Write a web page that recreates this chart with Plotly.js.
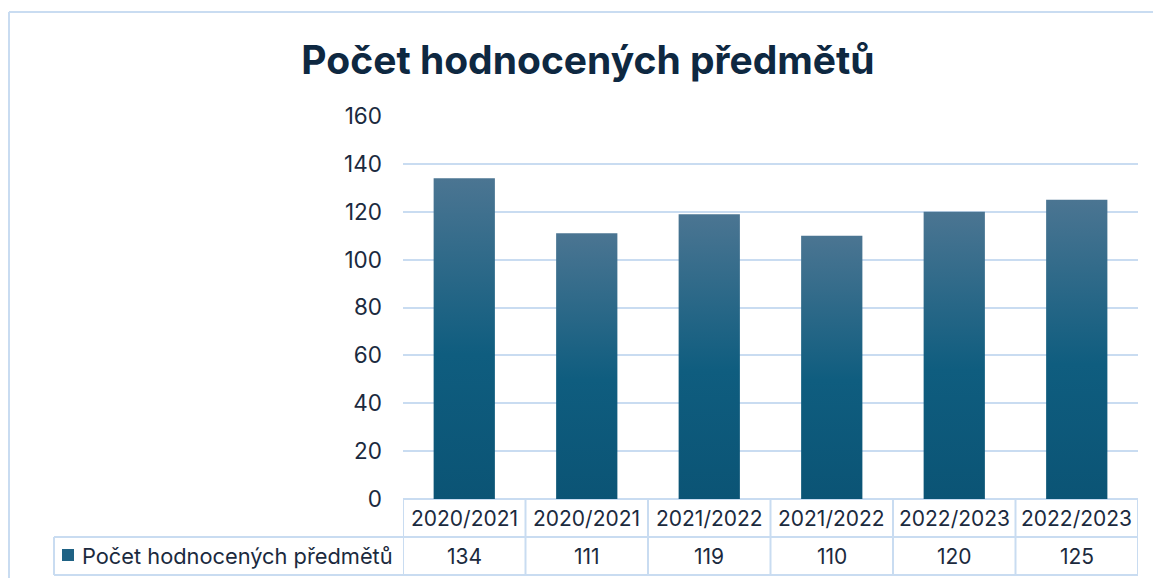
<!DOCTYPE html>
<html>
<head>
<meta charset="utf-8">
<script src="https://cdn.plot.ly/plotly-3.0.1.min.js"></script>
<style>html,body{margin:0;padding:0;background:#fff;}#chart{width:1153px;height:578px;}</style>
</head>
<body>
<div id="chart"></div>
<script>
const categories = ["2020/2021", "2020/2021", "2021/2022", "2021/2022", "2022/2023", "2022/2023"];
const values = [134, 111, 119, 110, 120, 125];
const seriesName = "Počet hodnocených předmětů";
const chartTitle = "Počet hodnocených předmětů";
const yTicks = [0, 20, 40, 60, 80, 100, 120, 140, 160];

const W = 1153, H = 578;
const L = 403, R = 1138, T = 116, B = 499;
const px = x => (x - L) / (R - L);
const py = y => (B - y) / (B - T);

const xs = categories.map((_, i) => i);
const gridCol = "#c9dcf1";
const textCol = "#1b2a3e";
const font = "Inter, 'Liberation Sans', Arial, sans-serif";

const shapes = [];
const line = (x0, y0, x1, y1, xref) => shapes.push({type: "line", xref: xref || "paper", yref: "paper", x0, y0, x1, y1, line: {color: gridCol, width: 2}, layer: "below"});
// table horizontal lines
line(0, py(499), 1, py(499));
line(px(54), py(537), 1, py(537));
line(px(54), py(575), 1, py(575));
// table vertical lines
line(px(54), py(537), px(54), py(575));
for (let i = 0; i <= categories.length; i++) {
  shapes.push({type: "line", xref: "x", yref: "paper", x0: i - 0.5, x1: i - 0.5, y0: py(499), y1: py(575), line: {color: gridCol, width: 2}});
}
// outer chart frame
line(px(9), py(12), px(1160), py(12));
line(px(9), py(12), px(9), py(590));
// legend key
shapes.push({type: "rect", xref: "paper", yref: "paper", x0: px(62), x1: px(74), y0: py(561), y1: py(549), fillcolor: "#1f6284", line: {width: 0}});

const annotations = [];
categories.forEach((c, i) => {
  annotations.push({x: i, y: py(518), xref: "x", yref: "paper", text: c, showarrow: false, font: {family: font, size: 21, color: textCol}, xanchor: "center", yanchor: "middle"});
  annotations.push({x: i, y: py(556), xref: "x", yref: "paper", text: String(values[i]), showarrow: false, font: {family: font, size: 21, color: textCol}, xanchor: "center", yanchor: "middle"});
});
annotations.push({x: px(80), y: py(556), xref: "paper", yref: "paper", text: seriesName, showarrow: false, font: {family: font, size: 21.8, color: textCol}, xanchor: "left", yanchor: "middle"});

const data = [{
  type: "bar",
  x: xs,
  y: values,
  name: seriesName,
  marker: {color: "#1f6284", line: {width: 0}},
  width: 0.5,
  hoverinfo: "none"
}];

const layout = {
  width: W, height: H,
  margin: {l: L, r: W - R, t: T, b: H - B, pad: 0},
  paper_bgcolor: "#ffffff",
  plot_bgcolor: "#ffffff",
  showlegend: false,
  title: {text: "<b>" + chartTitle + "</b>", x: 588 / W, xanchor: "center", xref: "container", y: 1 - 60 / H, yref: "container", yanchor: "middle", font: {family: font, size: 39, color: "#0e2841"}},
  xaxis: {range: [-0.5, categories.length - 0.5], showticklabels: false, showgrid: false, zeroline: false, showline: false, ticks: "", fixedrange: true},
  yaxis: {range: [0, 160], tickvals: yTicks, ticktext: yTicks.map(String), showgrid: true, gridcolor: gridCol, gridwidth: 2, zeroline: false, showline: false, ticks: "", ticklabelstandoff: 20, tickfont: {family: font, size: 22.5, color: textCol}, fixedrange: true},
  shapes, annotations,
  bargap: 0.5
};

Plotly.newPlot("chart", data, layout, {staticPlot: true, displayModeBar: false}).then(gd => {
  const svg = gd.querySelector("svg.main-svg");
  const ns = "http://www.w3.org/2000/svg";
  let defs = svg.querySelector("defs");
  if (!defs) { defs = document.createElementNS(ns, "defs"); svg.insertBefore(defs, svg.firstChild); }
  const g = document.createElementNS(ns, "linearGradient");
  g.setAttribute("id", "barGrad");
  g.setAttribute("x1", "0"); g.setAttribute("y1", "0"); g.setAttribute("x2", "0"); g.setAttribute("y2", "1");
  [["0", "#4b7592"], ["0.55", "#0f5d7f"], ["1", "#0b5475"]].forEach(([o, c]) => {
    const s = document.createElementNS(ns, "stop");
    s.setAttribute("offset", o); s.setAttribute("stop-color", c);
    g.appendChild(s);
  });
  defs.appendChild(g);
  gd.querySelectorAll(".barlayer .point path").forEach(p => { p.style.fill = "url(#barGrad)"; });
});
</script>
</body>
</html>
